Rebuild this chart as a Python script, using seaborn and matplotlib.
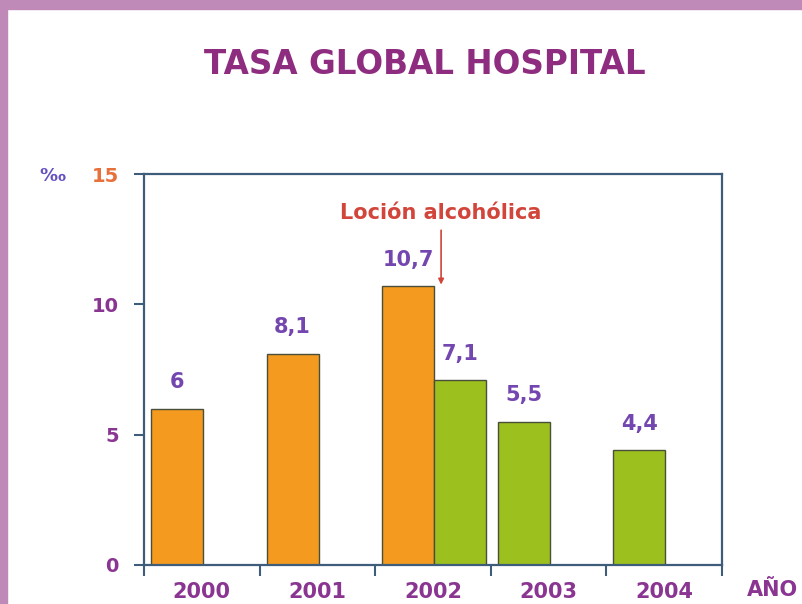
import numpy as np
import pandas as pd
import matplotlib
matplotlib.use("Agg")
import matplotlib.pyplot as plt
from matplotlib.patches import Rectangle
import seaborn as sns

sns.set_theme(style="white")
plt.rcParams['font.family'] = ['DejaVu Sans']

# data
years = ["2000", "2001", "2002", "2003", "2004"]
antes = [6.0, 8.1, 10.7, None, None]      # before the alcohol lotion
despues = [None, None, 7.1, 5.5, 4.4]     # after
value_labels = {6.0: "6", 8.1: "8,1", 10.7: "10,7", 7.1: "7,1", 5.5: "5,5", 4.4: "4,4"}
yticks = [0, 5, 10, 15]

c_orange = "#F39A1F"
c_green = "#9CC01E"
c_spine = "#3E5D7A"
c_purple = "#8A3592"
c_violet = "#7446B0"
c_red = "#D2453A"

# build rows: bars sit in the left half of each year slot, second bar next to it
slot_w = 0.45
rows = []
for i, y in enumerate(years):
    slot = 0
    for per, vals in (("antes", antes), ("despues", despues)):
        v = vals[i]
        if v is None:
            continue
        pos = i - 0.5 + 0.06 + slot_w / 2 + slot * slot_w
        rows.append({"pos": pos, "valor": v, "periodo": per})
        slot += 1
df = pd.DataFrame(rows)

fig = plt.figure(figsize=(8.03, 6.04), dpi=100)
fig.patch.set_facecolor("white")
ax = fig.add_axes([144/803, 39/604, 578/803, 391/604])

sns.barplot(data=df, x="pos", y="valor", hue="periodo",
            palette={"antes": c_orange, "despues": c_green},
            native_scale=True, dodge=False, width=1.0, legend=False,
            edgecolor="#4a4f3a", linewidth=1.0, saturation=1, ax=ax)

for _, r in df.iterrows():
    ax.annotate(value_labels[r["valor"]], (r["pos"], r["valor"]),
                xytext=(0, 19), textcoords="offset points",
                ha="center", va="center", fontsize=15, fontweight="bold",
                color=c_violet)

ax.set_xlim(-0.5, len(years) - 0.5)
ax.set_ylim(0, 15)
ax.set_xlabel("")
ax.set_ylabel("")

ax.set_xticks(range(len(years)))
ax.set_xticklabels(years)
ax.set_xticks(np.arange(-0.5, len(years)), minor=True)
ax.tick_params(axis="x", which="major", length=0, pad=12, labelsize=15,
               labelcolor=c_purple)
ax.tick_params(axis="x", which="minor", length=8, width=1.5, color=c_spine,
               direction="out", bottom=True)
for t in ax.get_xticklabels():
    t.set_fontweight("bold")

ax.set_yticks(yticks)
ax.set_yticklabels([str(t) for t in yticks])
ax.tick_params(axis="y", length=7, width=1.5, color=c_spine, pad=11,
               labelsize=14, left=True)
for t in ax.get_yticklabels():
    t.set_fontweight("bold")
    t.set_color("#E8703A" if t.get_text() == "15" else c_purple)

for s in ax.spines.values():
    s.set_visible(True)
    s.set_color(c_spine)
    s.set_linewidth(1.6)

# annotation for the lotion introduction
ax.text(2.07, 13.5, "Loción alcohólica", ha="center", va="center",
        fontsize=15, fontweight="bold", color=c_red)
ax.annotate("", xy=(2.07, 10.65), xytext=(2.07, 12.95),
            arrowprops=dict(arrowstyle="-|>", color=c_red, lw=1.2,
                            mutation_scale=8))

fig.text(425/803, 1 - 64/604, "TASA GLOBAL HOSPITAL", ha="center", va="center",
         fontsize=23.5, fontweight="bold", color="#8E2C80")
fig.text(52/803, 1 - 176/604, "‰", ha="center", va="center",
         fontsize=13, fontweight="bold", color="#6650C0")
fig.text(772/803, 1 - 590/604, "AÑO", ha="center", va="center",
         fontsize=15, fontweight="bold", color=c_purple)

# purple frame along top and left edges
fig.add_artist(Rectangle((0, 1 - 9/604), 1, 9/604, transform=fig.transFigure,
                         color="#C08AB8", zorder=0))
fig.add_artist(Rectangle((0, 0), 7/803, 1, transform=fig.transFigure,
                         color="#C08AB8", zorder=0))

fig.savefig("out.png", dpi=100)
